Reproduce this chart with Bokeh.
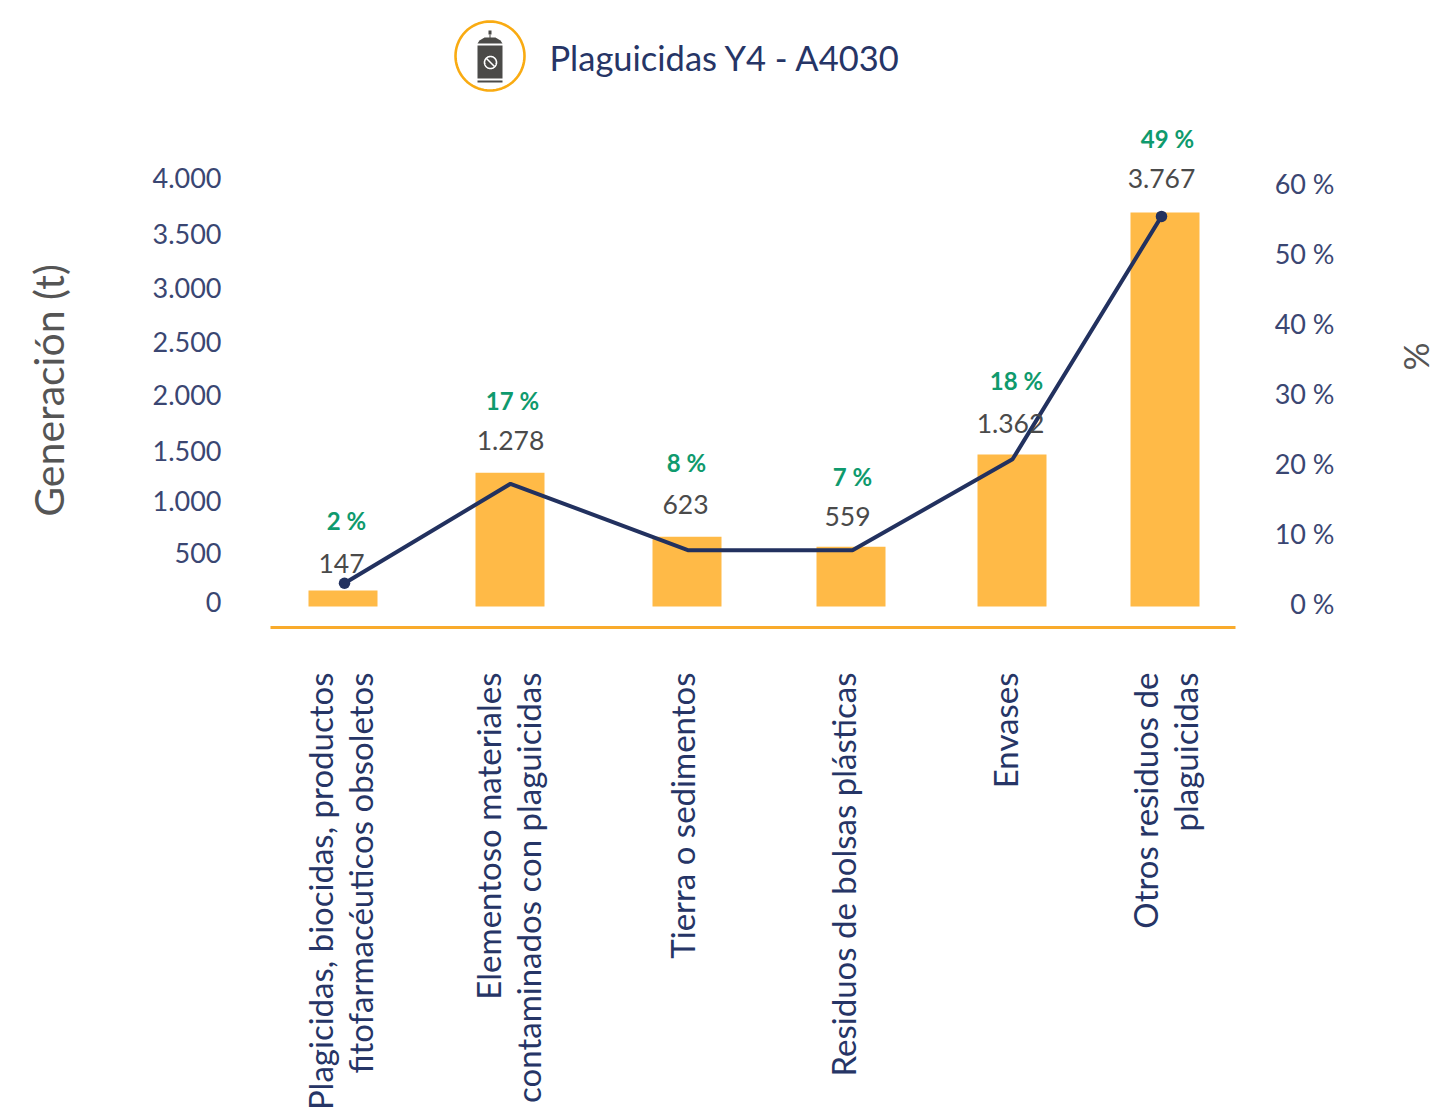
from math import pi
import numpy as np
from bokeh.plotting import figure
from bokeh.embed import file_html
from bokeh.resources import INLINE
from bokeh.core.properties import value
from bokeh.models import (ColumnDataSource, FixedTicker, LabelSet, Label, LinearAxis,
                          PolyAnnotation, Range1d)

title_text = "Plaguicidas Y4 - A4030"
categories = ["Plagicidas, biocidas, productos\nfitofarmacéuticos obsoletos",
              "Elementoso materiales\ncontaminados con plaguicidas",
              "Tierra o sedimentos", "Residuos de bolsas plásticas", "Envases",
              "Otros residuos de\nplaguicidas"]
bar_heights = [153, 1278, 668, 572, 1453, 3767]
value_labels = ["147", "1.278", "623", "559", "1.362", "3.767"]
line_pct = [2.9, 17.1, 7.6, 7.6, 20.6, 55.3]
share_labels = ["2 %", "17 %", "8 %", "7 %", "18 %", "49 %"]
left_tick_labels = ["0", "500", "1.000", "1.500", "2.000", "2.500", "3.000", "3.500", "4.000"]
right_ticks = [0, 10, 20, 30, 40, 50, 60]
right_tick_labels = ["0 %", "10 %", "20 %", "30 %", "40 %", "50 %", "60 %"]

# layout (page pixels); the frame fills the page so that nothing outside the plot is clipped
W, H = 1434, 1114
AX_L, AX_R, AX_T, AX_B = 270, 1235, 153, 627
bar_x = [342.5, 509.5, 686.5, 850.5, 1011.5, 1164.5]
line_x = [344, 510, 688, 852, 1012, 1161]
cat_x = [339, 507.5, 681, 842, 1004, 1164]
value_lab = [(341, 563), (510, 440), (685, 504), (847, 516), (1010, 423), (1161, 178)]
share_lab = [(346, 520), (512, 400), (686, 462), (852, 476), (1016, 380), (1167, 138)]
left_tick_px = [601, 552, 500, 450, 394, 341, 287, 233, 177]

# y scales: value -> page px
BAR_0, BAR_K = 606.0, 0.1046
TICK_0, TICK_K = 602.0, 0.106
PCT_0, PCT_K = 603.0, 7.0

def rng(zero, k):
    return Range1d((zero - H) / k, zero / k)

def bar_y(px):
    return (BAR_0 - px) / BAR_K

def tick_y(px):
    return (TICK_0 - px) / TICK_K

NAVY = "#22315f"
ORANGE = "#ffba47"
FONT = "Lato"

p = figure(width=W, height=H, output_backend="svg", toolbar_location=None,
           x_axis_type=None, y_axis_type=None,
           x_range=Range1d(0, W), y_range=rng(BAR_0, BAR_K),
           min_border_left=0, min_border_right=0, min_border_bottom=0, min_border_top=0,
           outline_line_color=None, background_fill_color="white", border_fill_color="white")
p.grid.visible = False
p.extra_y_ranges = {"ticks": rng(TICK_0, TICK_K), "pct": rng(PCT_0, PCT_K)}

# left axis
nudged = [tick_y(y) for y in left_tick_px]
la = LinearAxis(y_range_name="ticks", ticker=FixedTicker(ticks=nudged), fixed_location=AX_L,
                bounds=(tick_y(AX_B), tick_y(AX_T)),
                major_label_overrides=dict(zip(nudged, left_tick_labels)),
                axis_label="Generación (t)", axis_label_text_font=FONT,
                axis_label_text_font_size="41px", axis_label_text_font_style="normal",
                axis_label_text_color="#555555", axis_label_standoff=76,
                major_label_text_font=FONT, major_label_text_font_size="27px",
                major_label_text_color="#3a4672", major_label_standoff=49,
                axis_line_color=None, major_tick_line_color=None, minor_tick_line_color=None,
                major_tick_out=0, major_tick_in=0)
p.add_layout(la, "left")

# right-hand percent axis: labels are right aligned as in the reference
ra = LinearAxis(y_range_name="pct", ticker=FixedTicker(ticks=right_ticks), fixed_location=1334,
                major_label_overrides=dict(zip(right_ticks, right_tick_labels)),
                major_label_text_font=FONT, major_label_text_font_size="27px",
                major_label_text_color="#3a4672", major_label_standoff=0,
                axis_line_color=None, major_tick_line_color=None, minor_tick_line_color=None,
                major_tick_out=0, major_tick_in=0)
p.add_layout(ra, "left")

# bottom axis
xa = LinearAxis(ticker=FixedTicker(ticks=cat_x), fixed_location=bar_y(AX_B), bounds=(AX_L, AX_R),
                major_label_overrides=dict(zip(cat_x, categories)),
                major_label_orientation=pi / 2, major_label_standoff=45,
                major_label_text_font=FONT, major_label_text_font_size="33px",
                major_label_text_color="#263566", major_label_text_line_height=1.0,
                axis_line_color="#f9ab2c", axis_line_width=3,
                major_tick_line_color=None, minor_tick_line_color=None,
                major_tick_out=0, major_tick_in=0)
p.add_layout(xa, "below")

p.vbar(x=bar_x, top=bar_heights, bottom=0, width=69, fill_color=ORANGE, line_color=None)
p.line(x=line_x, y=line_pct, y_range_name="pct", line_color=NAVY, line_width=4)
p.scatter(x=[line_x[0], line_x[-1]], y=[line_pct[0], line_pct[-1]], y_range_name="pct",
          size=11.5, fill_color=NAVY, line_color=None)

vs = ColumnDataSource(dict(x=[a for a, _ in value_lab], y=[bar_y(b) for _, b in value_lab], t=value_labels))
p.add_layout(LabelSet(x="x", y="y", text="t", source=vs, text_align="center", text_baseline="middle",
                      text_font=value(FONT), text_font_size="26.5px", text_color="#4a4a4a"))
ss = ColumnDataSource(dict(x=[a for a, _ in share_lab], y=[bar_y(b) for _, b in share_lab], t=share_labels))
p.add_layout(LabelSet(x="x", y="y", text="t", source=ss, text_align="center", text_baseline="middle",
                      text_font=value(FONT), text_font_size="24px", text_font_style="bold",
                      text_color="#0f9a6d"))

p.add_layout(Label(x=1414, y=356, x_units="canvas", y_units="canvas", text="%",
                   text_font=FONT, text_font_size="35px", text_color="#555555", angle=pi / 2,
                   text_align="center", text_baseline="middle"))

p.add_layout(Label(x=549, y=57, x_units="canvas", y_units="canvas", text=title_text,
                   text_font=FONT, text_font_size="34.5px", text_color="#263566",
                   text_align="left", text_baseline="middle"))

# icon
def poly(xs, ys, fill=None, line=None, lw=1):
    p.add_layout(PolyAnnotation(xs=list(xs), ys=list(ys), xs_units="canvas", ys_units="canvas",
                                fill_color=fill, fill_alpha=1 if fill else 0,
                                line_color=line, line_alpha=1 if line else 0, line_width=lw))

def ring(cx, cy, r):
    t = np.linspace(0, 2 * np.pi, 73)[:-1]
    return list(cx + r * np.cos(t)), list(cy + r * np.sin(t))

DARK = "#4b4a48"
poly(*ring(489.5, 55.5, 34.5), line="#f9ab12", lw=2.6)
poly([488, 491, 491, 488], [30, 30, 34, 34], fill=DARK)
poly([489, 490, 490, 489], [34, 34, 38, 38], fill=DARK)
poly([477, 479, 484, 495, 500, 502], [43, 40, 37, 37, 40, 43], fill=DARK)
poly([477, 502, 502, 477], [45, 45, 78, 78], fill=DARK)
poly([477, 502, 502, 477], [80, 80, 82, 82], fill=DARK)
poly(*ring(490, 62, 6), line="white", lw=1.6)
poly([486, 494], [58, 66], line="white", lw=1.6)

open("out.html", "w").write(file_html(p, INLINE))
